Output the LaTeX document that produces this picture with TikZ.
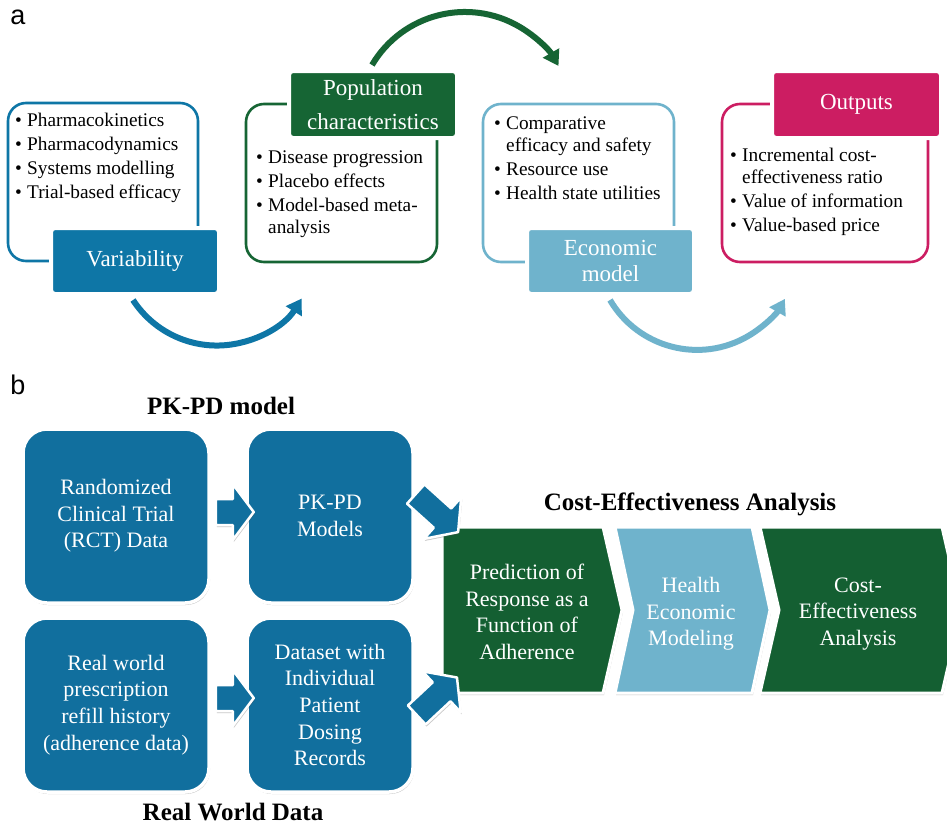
\documentclass[tikz,border=0pt]{standalone}
\usepackage{fontspec}
\setmainfont{Liberation Serif}
\newfontfamily\labfont{Liberation Sans}
\usetikzlibrary{arrows.meta,shadows,calc}
\definecolor{vblue}{RGB}{14,118,166}
\definecolor{bblue}{RGB}{17,111,158}
\definecolor{pgreen}{RGB}{22,101,52}
\definecolor{bgreen}{RGB}{20,95,50}
\definecolor{lblue}{RGB}{111,179,204}
\definecolor{mag}{RGB}{204,29,98}
\newcommand\bul{\makebox[12pt][l]{\textbullet}}
\newcommand\cont{\hspace*{12pt}}
\newcommand\blockarr[3]{%
  \filldraw[barrow, shift={(#1)}, rotate=#2]
    (0,-13) -- (#3-21,-13) -- (#3-21,-28) -- (#3,0) -- (#3-21,28) -- (#3-21,13) -- (0,13) -- cycle;}
\tikzset{
  outline/.style={draw=#1, line width=2.6pt, rounded corners=18pt},
  labelbox/.style={fill=#1, draw=white, line width=4pt, rounded corners=4pt, text=white,
    font=\fontsize{23}{25.5}\selectfont, align=center, inner sep=0pt},
  bullets/.style={anchor=north west, align=left, inner sep=0pt, font=\fontsize{19.3}{21.5}\selectfont},
  cycarrow/.style={draw=#1, line width=6pt, -{Triangle[length=15pt,width=18pt]}},
  softshadow/.style={drop shadow={shadow xshift=1pt, shadow yshift=-2pt, opacity=0.3, fill=black!70}},
  bbox/.style={fill=bblue, draw=white, line width=3.5pt, rounded corners=24pt, text=white,
    align=center, font=\fontsize{22}{26.7}\selectfont, minimum height=174pt, inner sep=0pt, softshadow},
  chev/.style={fill=#1, draw=white, line width=3pt, softshadow},
  chevtext/.style={text=white, align=center, font=\fontsize{22}{26.7}\selectfont, inner sep=0pt},
  barrow/.style={fill=bblue, draw=white, line width=2.5pt, line join=round, softshadow},
  heading/.style={font=\bfseries\fontsize{25}{28}\selectfont, inner sep=0pt},
  panel/.style={font=\labfont\fontsize{27}{30}\selectfont, inner sep=0pt}
}
\begin{document}
\begin{tikzpicture}[x=1pt,y=-1pt]
\useasboundingbox (0,0) rectangle (947,827);
\fill[white] (0,0) rectangle (947,827);

% ---------- panel a ----------
\node[panel] (la) at (18,17) {a};

\draw[outline=vblue] (8,103) rectangle (198,261);
\draw[outline=pgreen] (246,104) rectangle (437,262);
\draw[outline=lblue] (483,104) rectangle (674,262);
\draw[outline=mag] (722,104) rectangle (928,262);

\node[labelbox=vblue, minimum width=168pt, minimum height=66pt] (v) at (135,261) {Variability};
\node[labelbox=pgreen, minimum width=168pt, minimum height=67pt] (p) at (373,104.5) {Population\\[8pt]characteristics};
\node[labelbox=lblue, minimum width=167pt, minimum height=66pt] (e) at (610.5,261) {Economic\\model};
\node[labelbox=mag, minimum width=169pt, minimum height=67pt] (o) at (856.5,104.5) {Outputs};

\node[bullets] (vt) at (15,113) {\bul Pharmacokinetics\\[2.5pt]\bul Pharmacodynamics\\[2.5pt]\bul Systems modelling\\[2.5pt]\bul Trial-based efficacy};
\node[bullets] (pt) at (256,151) {\bul Disease progression\\[2.5pt]\bul Placebo effects\\[2.5pt]\bul Model-based meta-\\\cont analysis};
\node[bullets] (et) at (494,117) {\bul Comparative\\\cont efficacy and safety\\[2.5pt]\bul Resource use\\[2.5pt]\bul Health state utilities};
\node[bullets] (ot) at (730,148) {\bul Incremental cost-\\\cont effectiveness ratio\\[2.5pt]\bul Value of information\\[2.5pt]\bul Value-based price};

\draw[cycarrow=vblue] ($(v.south)+(-2,4)$) arc[start angle=147, end angle=32, radius=100];
\draw[cycarrow=pgreen] ($(p.north)+(-1,-4)$) arc[start angle=210.6, end angle=330, radius=108];
\draw[cycarrow=lblue] ($(e.south)+(-0.5,4)$) arc[start angle=149.6, end angle=29.7, radius=101];

% ---------- panel b ----------
\node[panel] (lb) at (18,385) {b};

\node[heading] (h1) at (221,406) {PK-PD model};
\node[heading] (h2) at (233,812) {Real World Data};
\node[heading] (h3) at (690,504) {Cost-Effectiveness Analysis};

\node[bbox, minimum width=186pt] (r1) at (116,516) {Randomized\\Clinical Trial\\(RCT) Data};
\node[bbox, minimum width=166pt] (r2) at (330,516) {PK-PD\\Models};
\node[bbox, minimum width=186pt] (r3) at (116,705) {Real world\\prescription\\refill history\\(adherence data)};
\node[bbox, minimum width=166pt] (r4) at (330,705) {Dataset with\\Individual\\Patient\\Dosing\\Records};

\coordinate (s1) at ($(r1.east)+(5,-4)$);
\coordinate (s2) at ($(r3.east)+(5,-7)$);
\coordinate (s3) at ($(r2.east)+(1,-22)$);
\coordinate (s4) at ($(r4.east)+(2,10)$);

\path[chev=bgreen] (442,527) -- (603,527) -- (622,610) -- (603,693) -- (442,693) -- cycle;
\path[chev=lblue] (615,527) -- (752,527) -- (770,610) -- (752,693) -- (615,693) -- (633,610) -- cycle;
\path[chev=bgreen] (760,527) -- (942,527) -- (961,610) -- (942,693) -- (760,693) -- (779,610) -- cycle;

\node[chevtext] (c1) at (527,612) {Prediction of\\Response as a\\Function of\\Adherence};
\node[chevtext] (c2) at (691,614) {Health\\Economic\\Modeling};
\node[chevtext] (c3) at (858,614) {Cost-\\Effectiveness\\Analysis};

\blockarr{s1}{0}{38}
\blockarr{s2}{0}{38}
\blockarr{s3}{-42}{57}
\blockarr{s4}{43}{55}
\end{tikzpicture}
\end{document}
